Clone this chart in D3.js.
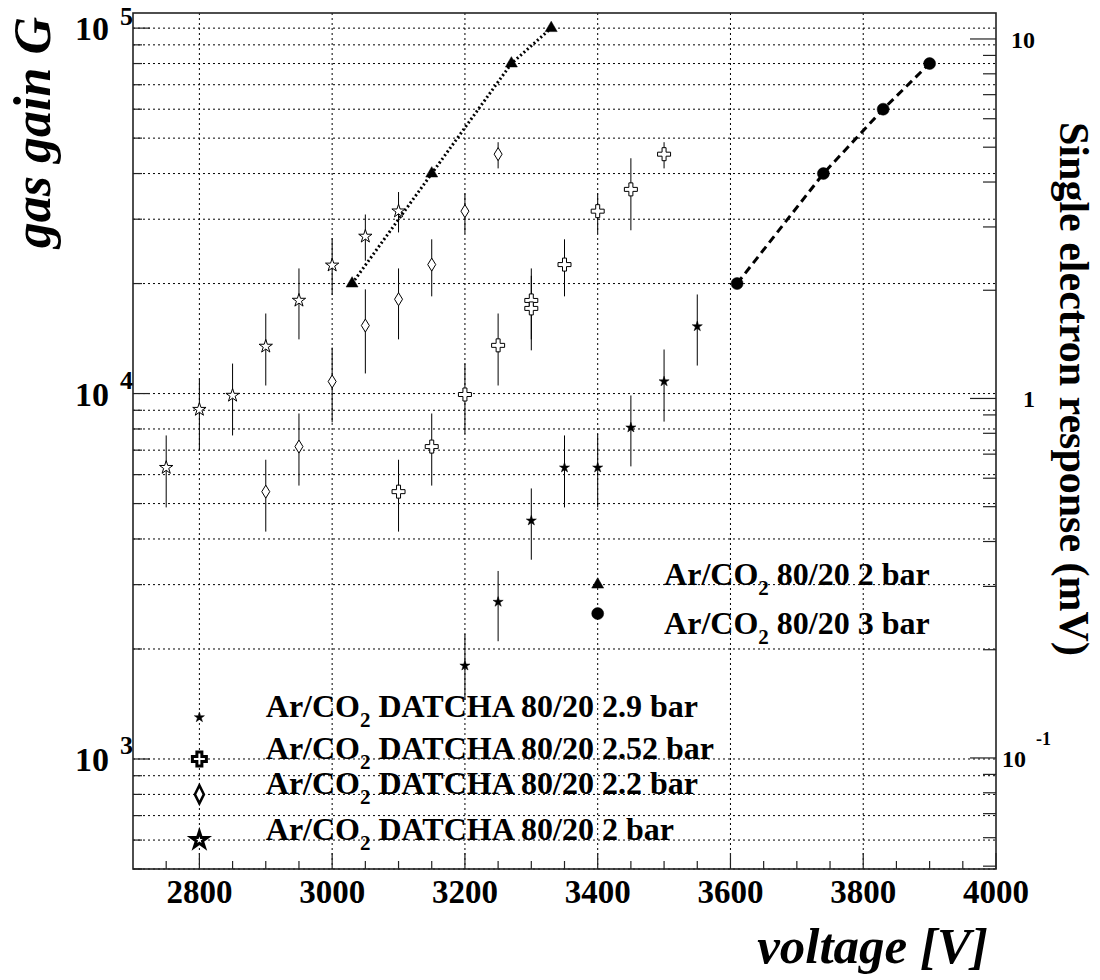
<!DOCTYPE html>
<html>
<meta charset="utf-8">
<head>
    <title>Gas gain vs voltage</title>
</head>

<style>
    body { margin: 0; background: white; }
    text { font-family: "Liberation Serif", "Times New Roman", serif; font-weight: bold; fill: black; }
</style>

<script src="https://d3js.org/d3.v7.min.js"></script>

<body>
<div id="chart"></div>

<script>

// Ar/CO2 DATCHA 80/20 2 bar  (open stars)
var volt20 = [2750, 2800, 2850, 2900, 2950, 3000, 3050, 3100]
var gain20 = [6270, 9040, 9880, 13460, 17980, 22440, 26920, 31560]
var hi20   = [7680, 11000, 12080, 16560, 22000, 26620, 30900, 35600]
var lo20   = [4880, 6980, 7680, 10520, 14070, 18600, 23100, 27600]

// Ar/CO2 DATCHA 80/20 2.2 bar  (open diamonds)
var volt22 = [2900, 2950, 3000, 3050, 3100, 3150, 3200, 3250]
var gain22 = [5390, 7160, 10790, 15350, 18120, 22540, 31560, 45190]
var hi22   = [6590, 8820, 13360, 19280, 22000, 26430, 35320, 48730]
var lo22   = [4190, 5600, 8340, 11350, 14070, 18450, 27420, 41320]

// Ar/CO2 DATCHA 80/20 2.52 bar  (open crosses)
var volt252 = [3100, 3150, 3200, 3250, 3300, 3300, 3350, 3400, 3450, 3500]
var gain252 = [5390, 7160, 9940, 13550, 17980, 17100, 22540, 31560, 36200, 45190]
var hi252   = [6590, 8820, 12080, 16560, 22000, 21000, 26430, 35320, 44050, 48730]
var lo252   = [4190, 5600, 7760, 10520, 14070, 13130, 18450, 27420, 27980, 41320]

// Ar/CO2 DATCHA 80/20 2.9 bar  (filled small stars)
var volt29 = [3200, 3250, 3300, 3350, 3400, 3450, 3500, 3550]
var gain29 = [1800, 2690, 4490, 6270, 6270, 8070, 10790, 15270]
var hi29   = [2200, 3270, 5500, 7680, 7760, 9880, 13200, 18670]
var lo29   = [1450, 2100, 3510, 4880, 4880, 6320, 8380, 11930]

// Ar/CO2 80/20 2 bar (triangles) and 3 bar (circles)
var voltTri = [3030, 3150, 3270, 3330]
var gainTri = [20000, 40000, 80000, 100000]
var voltCirc = [3610, 3740, 3830, 3900]
var gainCirc = [20000, 40000, 60000, 80000]

// ticks
var voltTicks = [2800, 3000, 3200, 3400, 3600, 3800, 4000]
var gainMajor = [1e3, 1e4, 1e5]
var gainExp = ["3", "4", "5"]
var respMajor = [10, 1, 0.1]
var respText = ["10", "1", "10"]
var respExp = ["", "", "-1"]

// legend entries, placed in data coordinates
var legA_text = ["DATCHA 80/20 2.9 bar", "DATCHA 80/20 2.52 bar", "DATCHA 80/20 2.2 bar", "DATCHA 80/20 2 bar"]
var legA_gain = [1300, 1000, 800, 600]
var legA_markV = 2800, legA_textV = 2900
var legB_text = ["80/20 2 bar", "80/20 3 bar"]
var legB_mark = [3000, 2500]
var legB_textG = [3000, 2200]
var legB_markV = 3400, legB_textV = 3500

var W = 1100, H = 980
var padL = 133, padR = 996, padT = 13, padB = 869

var svg = d3.select("#chart")
  .append("svg")
  .attr("width", W)
  .attr("height", H)

var x = d3.scaleLinear().domain([2700, 4000]).range([padL, padR])
var y = d3.scaleLog().domain([500, 1.1e5]).range([padB, padT])
var r = d3.scaleLog().domain([0.0491, 11.81]).range([padB, padT])

// grid
var grid = svg.append("g")
  .style("stroke", "black")
  .style("stroke-width", 1)
  .style("stroke-dasharray", "2,3")
grid.selectAll("vline")
  .data(voltTicks.filter(function(d) { return d < 4000; }))
  .enter().append("line")
  .attr("x1", function(d) { return x(d); }).attr("x2", function(d) { return x(d); })
  .attr("y1", padT).attr("y2", padB)
grid.selectAll("hline")
  .data(y.ticks())
  .enter().append("line")
  .attr("x1", padL).attr("x2", padR)
  .attr("y1", function(d) { return y(d); }).attr("y2", function(d) { return y(d); })

// ticks
var tk = svg.append("g").style("stroke", "#222").style("stroke-width", 1.2)
y.ticks().forEach(function(d) {
  var major = gainMajor.indexOf(d) >= 0
  tk.append("line").attr("x1", padL).attr("x2", padL + (major ? 17 : 9))
    .attr("y1", y(d)).attr("y2", y(d))
})
r.ticks().forEach(function(d) {
  var major = respMajor.some(function(m) { return Math.abs(m - d) < 1e-9; })
  tk.append("line").attr("x1", padR).attr("x2", padR - (major ? 26 : 13))
    .attr("y1", r(d)).attr("y2", r(d))
})
d3.range(2750, 4001, 50).forEach(function(d) {
  var major = voltTicks.indexOf(d) >= 0
  tk.append("line").attr("x1", x(d)).attr("x2", x(d))
    .attr("y1", padB).attr("y2", padB - (major ? 16 : 8))
})

// frame
svg.append("rect")
  .attr("x", padL).attr("y", padT)
  .attr("width", padR - padL).attr("height", padB - padT)
  .style("fill", "none").style("stroke", "#222").style("stroke-width", 1.6)

// tick labels
svg.selectAll("xlab")
  .data(voltTicks).enter()
  .append("text")
  .attr("x", function(d) { return x(d); })
  .attr("y", 903)
  .attr("text-anchor", "middle")
  .style("font-size", "33px")
  .text(function(d) { return d; })

gainMajor.forEach(function(d, i) {
  svg.append("text").attr("x", 109).attr("y", y(d) + 12)
    .attr("text-anchor", "end").style("font-size", "34px").text("10")
  svg.append("text").attr("x", 120).attr("y", Math.max(y(d) - 5, 25))
    .style("font-size", "26px").text(gainExp[i])
})

respMajor.forEach(function(d, i) {
  var hasExp = respExp[i] != ""
  svg.append("text").attr("x", hasExp ? 1026 : 1035).attr("y", r(d) + 9)
    .attr("text-anchor", "end").style("font-size", "24px").text(respText[i])
  if (hasExp)
    svg.append("text").attr("x", 1036).attr("y", r(d) - 13)
      .style("font-size", "18px").text(respExp[i])
})

// error bars
function errors(vs, lo, hi) {
  svg.append("g").selectAll("line")
    .data(vs).enter().append("line")
    .attr("x1", function(d) { return x(d); })
    .attr("x2", function(d) { return x(d); })
    .attr("y1", function(d, i) { return y(lo[i]); })
    .attr("y2", function(d, i) { return y(hi[i]); })
    .style("stroke", "black").style("stroke-width", 1)
}
errors(volt20, lo20, hi20)
errors(volt22, lo22, hi22)
errors(volt252, lo252, hi252)
errors(volt29, lo29, hi29)

// connecting lines
function path(vs, gs) {
  return d3.line()(vs.map(function(v, i) { return [x(v), y(gs[i])]; }))
}
svg.append("path").attr("d", path(voltTri, gainTri))
  .style("fill", "none").style("stroke", "black")
  .style("stroke-width", 3).style("stroke-dasharray", "2,2.5")
svg.append("path").attr("d", path(voltCirc, gainCirc))
  .style("fill", "none").style("stroke", "black")
  .style("stroke-width", 3).style("stroke-dasharray", "8,5")

// marker shapes
function diamond(w, h) {
  return function() { return "M0," + (-h) + "L" + w + ",0L0," + h + "L" + (-w) + ",0Z"; }
}
function cross(a, t) {
  return function() {
    return "M" + (-t) + "," + (-a) + "H" + t + "V" + (-t) + "H" + a + "V" + t + "H" + t +
      "V" + a + "H" + (-t) + "V" + t + "H" + (-a) + "V" + (-t) + "H" + (-t) + "Z"
  }
}
var starOpen = d3.symbol().type(d3.symbolStar).size(55)
var starFill = d3.symbol().type(d3.symbolStar).size(32)
var tri = d3.symbol().type(d3.symbolTriangle).size(62)
var circ = d3.symbol().type(d3.symbolCircle).size(113)

function points(vs, gs, shape, fill, sw) {
  svg.append("g").selectAll("path")
    .data(vs).enter().append("path")
    .attr("transform", function(d, i) { return "translate(" + x(d) + "," + y(gs[i]) + ")"; })
    .attr("d", shape)
    .style("fill", fill).style("stroke", "black").style("stroke-width", sw)
}
points(volt20, gain20, starOpen, "white", 1)
points(volt22, gain22, diamond(4, 6.5), "white", 1)
points(volt252, gain252, cross(6.5, 2), "white", 1)
points(volt29, gain29, starFill, "black", 0.5)
points(voltTri, gainTri, tri, "black", 0.5)
points(voltCirc, gainCirc, circ, "black", 0.5)

// legend markers (drawn in data coordinates, as in the original)
points([legA_markV], [legA_gain[0]], starFill, "black", 0.5)
points([legA_markV], [legA_gain[1]], cross(7, 2.5), "white", 3)
points([legA_markV], [legA_gain[2]], diamond(4.5, 9), "white", 2.5)
points([legA_markV], [legA_gain[3]], d3.symbol().type(d3.symbolStar).size(80), "white", 3)
points([legB_markV], [legB_mark[0]], tri, "black", 0.5)
points([legB_markV], [legB_mark[1]], circ, "black", 0.5)

function label(xp, yp, rest) {
  var t = svg.append("text").attr("x", xp).attr("y", yp).style("font-size", "32px")
  t.append("tspan").text("Ar/CO")
  t.append("tspan").attr("dy", 10).style("font-size", "21px").text("2")
  t.append("tspan").attr("dy", -10).text(" " + rest)
}
legA_text.forEach(function(s, i) { label(x(legA_textV), y(legA_gain[i]), s) })
legB_text.forEach(function(s, i) { label(x(legB_textV), y(legB_textG[i]), s) })

// axis titles
svg.append("text")
  .attr("transform", "translate(50,17) rotate(-90)")
  .attr("text-anchor", "end")
  .style("font-size", "52px").style("font-style", "italic")
  .text("gas gain G")
svg.append("text")
  .attr("x", 988).attr("y", 963)
  .attr("text-anchor", "end")
  .style("font-size", "51px").style("font-style", "italic")
  .text("voltage [V]")
svg.append("text")
  .attr("transform", "translate(1060,122) rotate(90)")
  .style("font-size", "42px")
  .text("Single electron response (mV)")

</script>
</body>
</html>
